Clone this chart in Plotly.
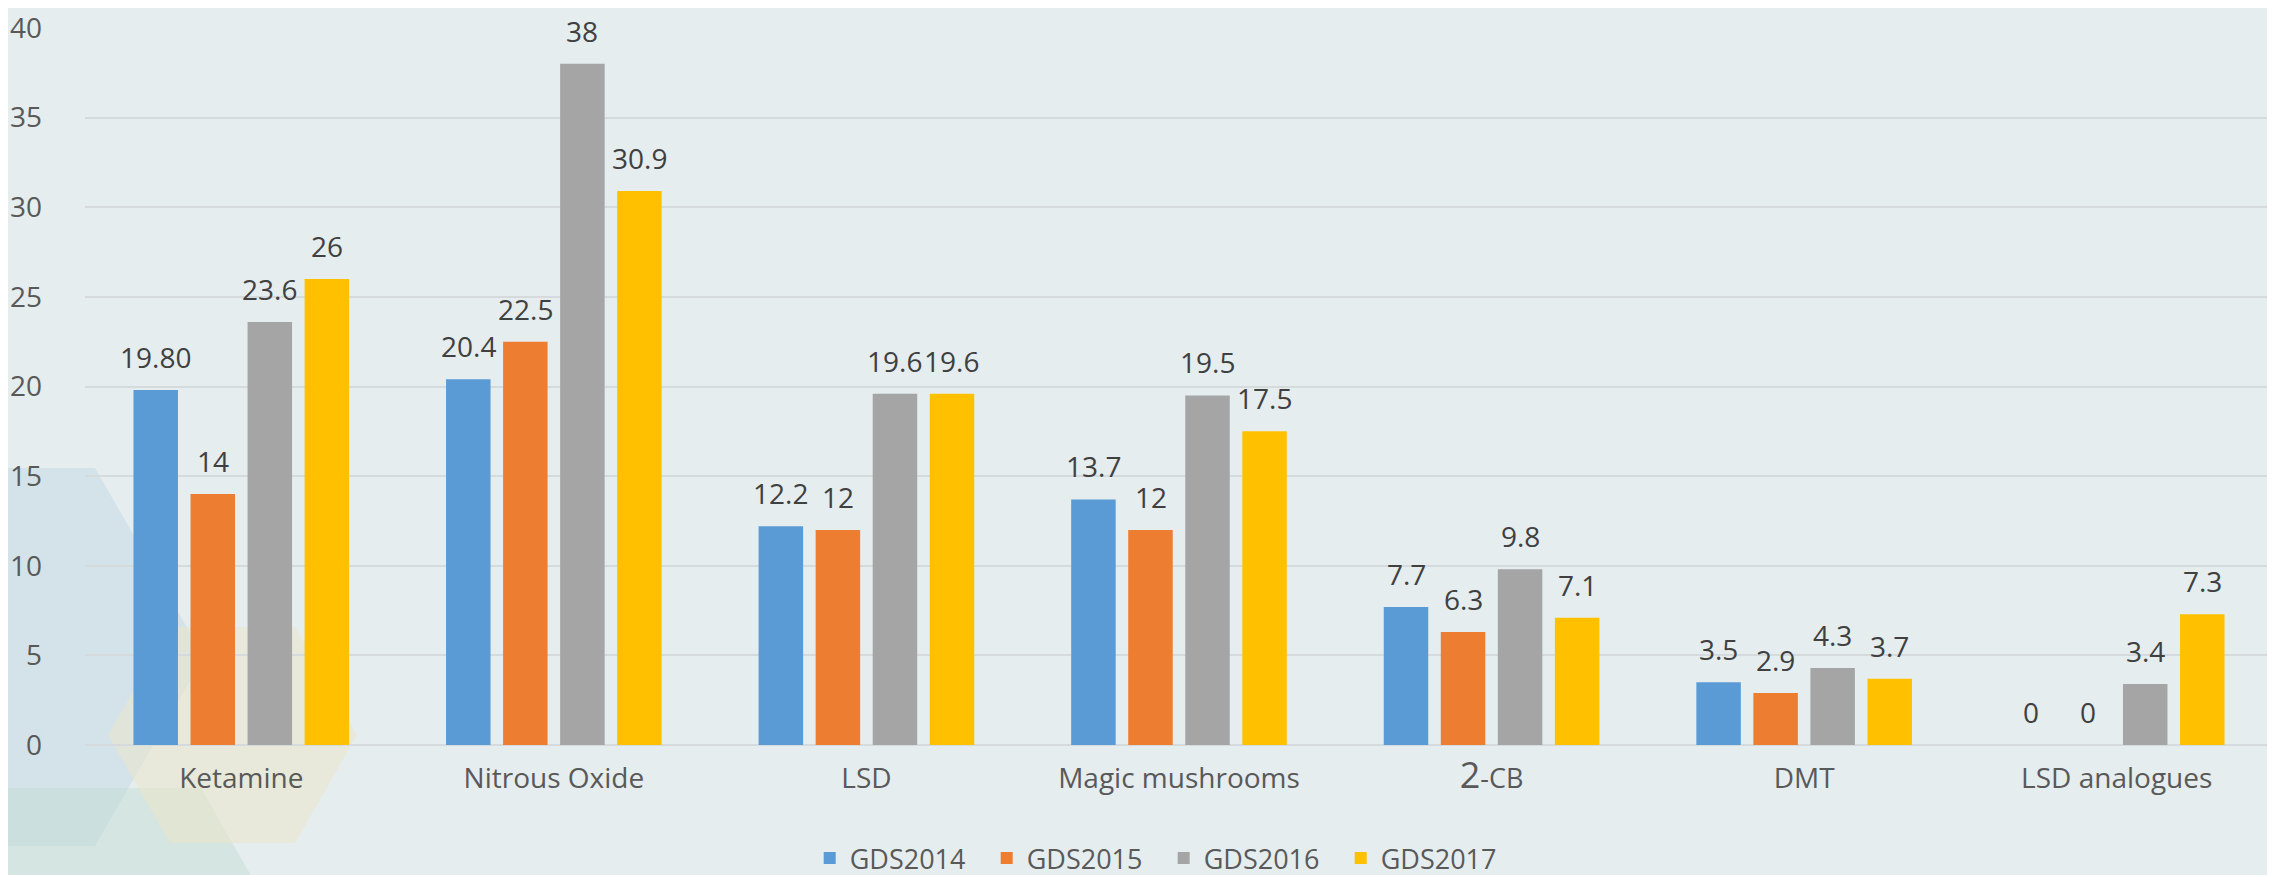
import plotly.graph_objects as go

categories = ["Ketamine", "Nitrous Oxide", "LSD", "Magic mushrooms", "2-CB", "DMT", "LSD analogues"]
tick_text = ["Ketamine", "Nitrous Oxide", "LSD", "Magic mushrooms",
             "<span style='font-size:36px'>2</span><span style='font-size:27px'>-CB</span>",
             "DMT", "LSD analogues"]
series_names = ["GDS2014", "GDS2015", "GDS2016", "GDS2017"]
gds2014 = [19.8, 20.4, 12.2, 13.7, 7.7, 3.5, 0]
gds2015 = [14, 22.5, 12, 12, 6.3, 2.9, 0]
gds2016 = [23.6, 38, 19.6, 19.5, 9.8, 4.3, 3.4]
gds2017 = [26, 30.9, 19.6, 17.5, 7.1, 3.7, 7.3]
labels2014 = ["19.80", "20.4", "12.2", "13.7", "7.7", "3.5", "0"]
labels2015 = ["14", "22.5", "12", "12", "6.3", "2.9", "0"]
labels2016 = ["23.6", "38", "19.6", "19.5", "9.8", "4.3", "3.4"]
labels2017 = ["26", "30.9", "19.6", "17.5", "7.1", "3.7", "7.3"]
colors = ["#5B9BD5", "#ED7D31", "#A5A5A5", "#FFC000"]

W, H = 2275, 875
L, R, T, B = 77, 10, 20, 138
pw, ph = W - L - R, H - T - B

def px(x):
    return (x - L) / pw

def py(y):
    return (H - B - y) / ph

fig = go.Figure()
values = [gds2014, gds2015, gds2016, gds2017]
labels = [labels2014, labels2015, labels2016, labels2017]
for name, vals, col in zip(series_names, values, colors):
    fig.add_trace(go.Bar(name=name, x=categories, y=vals, marker_color=col,
                         marker_line_width=0))

slot = 57
shifts = [-1.5 * slot, -0.5 * slot, 0.5 * slot, 1.5 * slot]
annotations = []
for vals, labs, sh in zip(values, labels, shifts):
    for c, v, t in zip(categories, vals, labs):
        annotations.append(dict(x=c, y=v, text=t, showarrow=False, xshift=sh,
                                yshift=33, yanchor="middle",
                                font=dict(family="Open Sans", size=28, color="#404040")))

def poly(pts, color):
    path = "M " + " L ".join(f"{px(x)},{py(y)}" for x, y in pts) + " Z"
    return dict(type="path", xref="paper", yref="paper", path=path,
                fillcolor=color, line=dict(width=0), layer="below")

shapes = [
    poly([(-300, 460), (87, 460), (196, 649), (87, 838), (-300, 838)], "rgba(190,215,228,0.45)"),
    poly([(-300, 780), (193, 780), (310, 985), (-300, 985)], "rgba(190,218,205,0.40)"),
    poly([(100, 727), (162, 619), (287, 619), (349, 727), (287, 835), (162, 835)], "rgba(235,230,200,0.55)"),
]

fig.update_layout(
    width=W, height=H,
    margin=dict(l=L, r=R, t=T, b=B, autoexpand=False),
    paper_bgcolor="#e5edef",
    plot_bgcolor="rgba(0,0,0,0)",
    barmode="group",
    bargap=0.27,
    bargroupgap=0.22,
    font=dict(family="Open Sans", size=28, color="#595959"),
    annotations=annotations,
    shapes=shapes,
    showlegend=True,
    legend=dict(orientation="h", x=0.493, xanchor="center",
                yref="container", y=0, yanchor="bottom",
                font=dict(family="Open Sans", size=27, color="#595959"),
                entrywidth=132, entrywidthmode="pixels",
                bgcolor="rgba(0,0,0,0)", itemwidth=30, traceorder="normal"),
)
fig.update_xaxes(tickvals=categories, ticktext=tick_text, showgrid=False,
                 showline=False, zeroline=False, ticks="", ticklabelstandoff=14,
                 automargin=False, ticklabeloverflow="allow",
                 tickfont=dict(size=28, color="#595959"))
fig.update_yaxes(range=[0, 40], dtick=5, showgrid=True, gridcolor="#d5dadc", gridwidth=2,
                 zeroline=True, zerolinecolor="#d5dadc", zerolinewidth=2,
                 showline=False, ticks="", ticklabelstandoff=42, automargin=False,
                 ticklabeloverflow="allow",
                 tickfont=dict(size=28, color="#595959"))

fig.write_html("out.html")
